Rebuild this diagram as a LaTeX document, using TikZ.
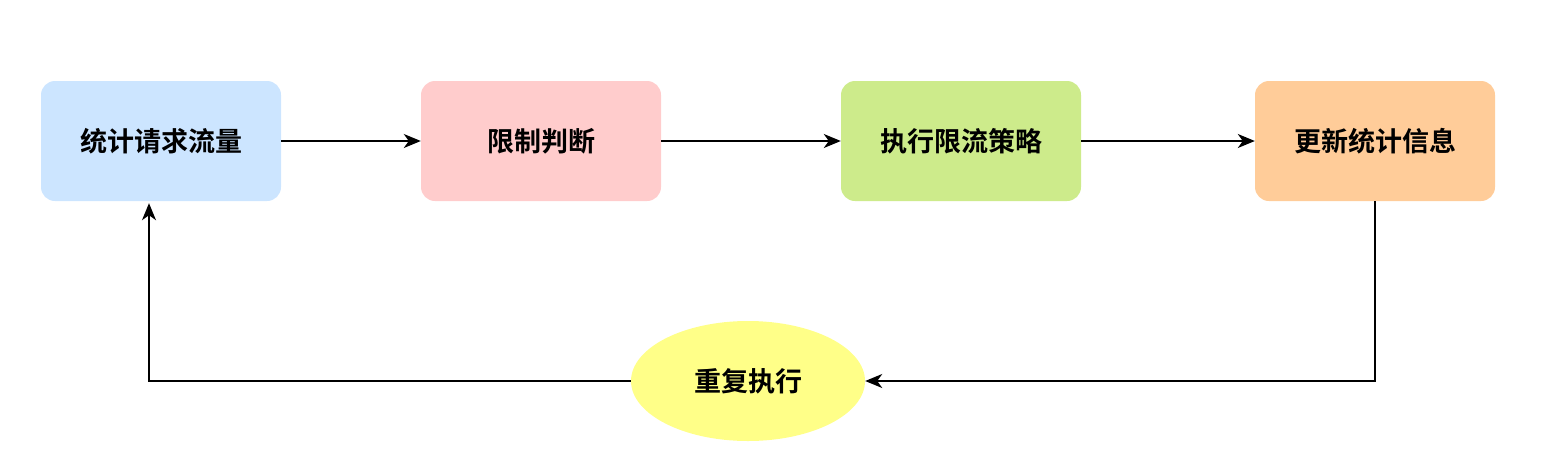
\documentclass[tikz,border=0pt]{standalone}
\usepackage{fontspec}
\newfontfamily\cjk{Noto Sans CJK SC}[BoldFont={Noto Sans CJK SC Bold}]
\usetikzlibrary{positioning,shapes.geometric,arrows.meta}
\definecolor{stepblue}{HTML}{CCE5FF}
\definecolor{steppink}{HTML}{FFCCCC}
\definecolor{stepgreen}{HTML}{CDEB8B}
\definecolor{steporange}{HTML}{FFCC99}
\definecolor{stepyellow}{HTML}{FFFF88}
\tikzset{
  stage/.style={rectangle, rounded corners=14pt, draw=none, minimum width=240pt,
    minimum height=120pt, font=\cjk\bfseries\fontsize{27pt}{32pt}\selectfont},
  flow/.style={-{Stealth[length=17pt,width=14pt,inset=5pt]}, line width=1.6pt}
}
\begin{document}
\begin{tikzpicture}[x=1pt,y=1pt]
  \useasboundingbox (0,0) rectangle (1546,-474);

  \node[stage, fill=stepblue] (count) at (161,-141) {统计请求流量};
  \node[stage, fill=steppink] (judge) at (541,-141) {限制判断};
  \node[stage, fill=stepgreen] (limit) at (961,-141) {执行限流策略};
  \node[stage, fill=steporange] (update) at (1375,-141) {更新统计信息};
  \node[ellipse, fill=stepyellow, minimum width=234pt, minimum height=120pt,
    font=\cjk\bfseries\fontsize{27pt}{32pt}\selectfont] (repeat) at (748,-381) {重复执行};

  \draw[flow] (count) -- (judge);
  \draw[flow] (judge) -- (limit);
  \draw[flow] (limit) -- (update);
  \draw[flow] (update.south) |- (repeat.east);
  \draw[flow] (repeat.west) -| ([xshift=-12pt, yshift=-2pt]count.south);
\end{tikzpicture}
\end{document}
